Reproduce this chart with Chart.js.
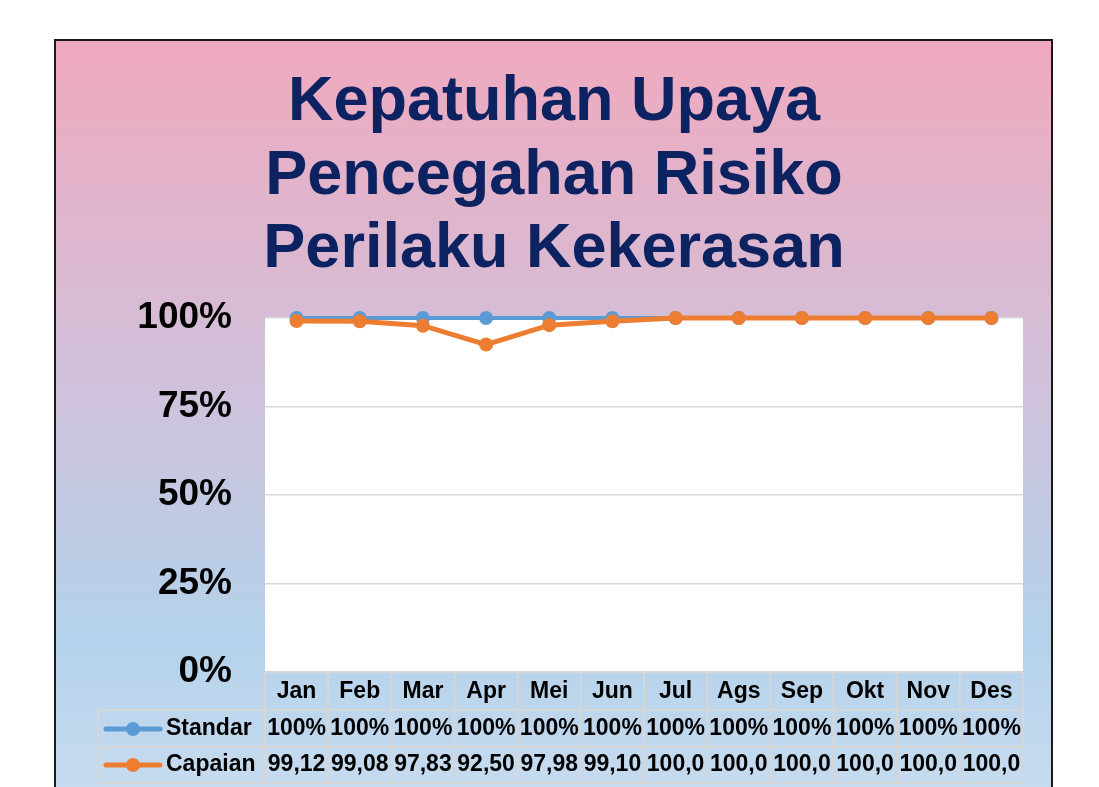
<!DOCTYPE html>
<html>
<head>
<meta charset="utf-8">
<script src="https://cdn.jsdelivr.net/npm/chart.js@4"></script>
<style>
  html, body { margin: 0; padding: 0; background: #fff; }
  canvas { display: block; }
</style>
</head>
<body>
<canvas id="chart" width="1099" height="787"></canvas>
<script>
const BULAN = ['Jan', 'Feb', 'Mar', 'Apr', 'Mei', 'Jun', 'Jul', 'Ags', 'Sep', 'Okt', 'Nov', 'Des'];
const STANDAR = [100, 100, 100, 100, 100, 100, 100, 100, 100, 100, 100, 100];
const CAPAIAN = [99.12, 99.08, 97.83, 92.50, 97.98, 99.10, 100, 100, 100, 100, 100, 100];
const Y_TICKS = [0, 25, 50, 75, 100];
const JUDUL = ['Kepatuhan Upaya', 'Pencegahan Risiko', 'Perilaku Kekerasan'];

const FONT = '"Liberation Sans", Arial, sans-serif';
const BIRU = '#5b9bd5';
const ORANYE = '#ed7d31';

// format like the sheet cells: comma decimal, cut to 5 chars
const fmtCapaian = v => v.toFixed(2).replace('.', ',').slice(0, 5);
const fmtStandar = v => v + '%';

const latarPlugin = {
    id: 'latar',
    beforeDraw(chart) {
        const { ctx, chartArea } = chart;
        ctx.save();
        ctx.fillStyle = '#fff';
        ctx.fillRect(0, 0, chart.width, chart.height);
        const g = ctx.createLinearGradient(0, 40, 0, 787);
        g.addColorStop(0, '#f0a9be');
        g.addColorStop(0.5, '#cdc3dd');
        g.addColorStop(0.8, '#b4d2eb');
        g.addColorStop(1, '#c6dbef');
        ctx.fillStyle = g;
        ctx.fillRect(55, 40, 997, 780);
        ctx.strokeStyle = '#1a1a1a';
        ctx.lineWidth = 2;
        ctx.strokeRect(55, 40, 997, 780);
        ctx.fillStyle = '#fff';
        ctx.fillRect(chartArea.left, chartArea.top, chartArea.right - chartArea.left, chartArea.bottom - chartArea.top);

        // title, centred on the frame
        ctx.fillStyle = '#0d2260';
        ctx.font = 'bold 63px ' + FONT;
        ctx.textAlign = 'center';
        ctx.textBaseline = 'alphabetic';
        JUDUL.forEach((t, i) => ctx.fillText(t, 554, 120 + i * 73.5));
        ctx.restore();
    },
    afterDraw(chart) {
        const { ctx, chartArea } = chart;
        const xs = chart.scales.x;
        const half = (xs.getPixelForValue(1) - xs.getPixelForValue(0)) / 2;
        const top = chartArea.bottom;
        const rows = [top, 710, 747, 783];
        const legendLeft = 98;

        ctx.save();
        ctx.strokeStyle = '#d6d6d6';
        ctx.lineWidth = 2;
        ctx.beginPath();
        ctx.moveTo(chartArea.left, rows[0]); ctx.lineTo(chartArea.right, rows[0]);
        for (let r = 1; r < rows.length; r++) {
            ctx.moveTo(legendLeft, rows[r]); ctx.lineTo(chartArea.right, rows[r]);
        }
        for (let i = 0; i <= BULAN.length; i++) {
            const x = xs.getPixelForValue(0) - half + i * half * 2;
            ctx.moveTo(x, rows[0]); ctx.lineTo(x, rows[3]);
        }
        ctx.moveTo(legendLeft, rows[1]); ctx.lineTo(legendLeft, rows[3]);
        ctx.stroke();

        ctx.fillStyle = '#000';
        ctx.font = 'bold 23px ' + FONT;
        ctx.textAlign = 'center';
        ctx.textBaseline = 'middle';
        BULAN.forEach((b, i) => {
            const x = xs.getPixelForValue(i);
            ctx.fillText(b, x, 692);
            ctx.fillText(fmtStandar(STANDAR[i]), x, 729);
            ctx.fillText(fmtCapaian(CAPAIAN[i]), x, 765);
        });

        // legend keys inside the table
        const keys = [
            { label: chart.data.datasets[1].label, color: BIRU, y: 729 },
            { label: chart.data.datasets[0].label, color: ORANYE, y: 765 }
        ];
        keys.forEach(k => {
            ctx.strokeStyle = k.color;
            ctx.lineWidth = 5;
            ctx.lineCap = 'round';
            ctx.beginPath();
            ctx.moveTo(106, k.y); ctx.lineTo(160, k.y);
            ctx.stroke();
            ctx.fillStyle = k.color;
            ctx.beginPath();
            ctx.arc(133, k.y, 7, 0, Math.PI * 2);
            ctx.fill();
            ctx.fillStyle = '#000';
            ctx.textAlign = 'left';
            ctx.fillText(k.label, 166, k.y);
        });
        ctx.restore();
    }
};

new Chart(document.getElementById('chart'), {
    type: 'line',
    data: {
        labels: BULAN,
        datasets: [
            {
                label: 'Capaian',
                data: CAPAIAN,
                borderColor: ORANYE,
                backgroundColor: ORANYE,
                borderWidth: 5,
                pointRadius: 7,
                pointBorderWidth: 0,
                tension: 0,
                clip: false,
                order: 0
            },
            {
                label: 'Standar',
                data: STANDAR,
                borderColor: BIRU,
                backgroundColor: BIRU,
                borderWidth: 4,
                pointRadius: 7,
                pointBorderWidth: 0,
                tension: 0,
                clip: false,
                order: 1
            }
        ]
    },
    options: {
        responsive: false,
        animation: false,
        devicePixelRatio: 1,
        layout: {
            padding: { left: 55, right: 76, top: 318, bottom: 115 }
        },
        plugins: {
            legend: { display: false },
            tooltip: { enabled: false },
            title: { display: false }
        },
        scales: {
            x: {
                display: false,
                offset: true
            },
            y: {
                min: 0,
                max: 100,
                afterFit(scale) { scale.width = 210; },
                afterBuildTicks(scale) { scale.ticks = Y_TICKS.map(v => ({ value: v })); },
                border: { display: false },
                grid: { color: '#d9d9d9', lineWidth: 1.5, drawTicks: false },
                ticks: {
                    color: '#000',
                    padding: 33,
                    font: { family: FONT, size: 37, weight: 'bold' },
                    callback: v => v + '%'
                }
            }
        }
    },
    plugins: [latarPlugin]
});
</script>
</body>
</html>
